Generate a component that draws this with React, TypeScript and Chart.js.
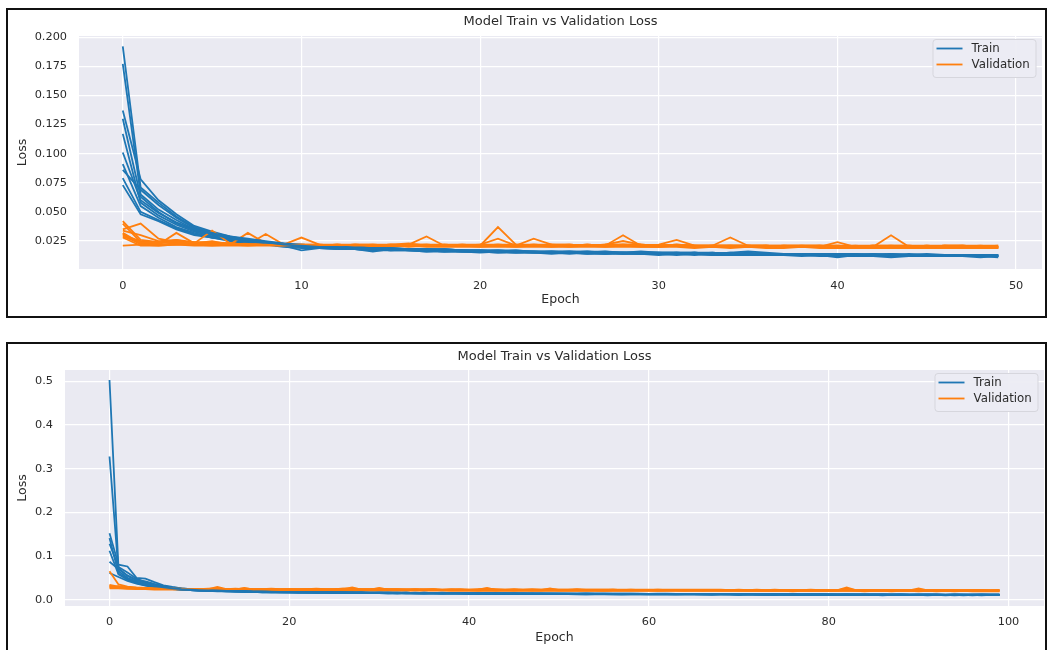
import React, { useEffect, useRef } from "react";
import { Chart, registerables } from "chart.js";

Chart.register(...registerables);

const FONT = "'DejaVu Sans', sans-serif";
const TEXT = "#2b2b2b";
const TRAIN_COLOR = "#1f77b4";
const VAL_COLOR = "#ff7f0e";
const FACE = "#EAEAF2";
const TITLE = "Model Train vs Validation Loss";

// ---------- Top chart (50 epochs) ----------
const topEpochs = Array.from({ length: 50 }, (_, i) => i);
const topXTicks = [0, 10, 20, 30, 40, 50];
const topYTicks = [0.025, 0.05, 0.075, 0.1, 0.125, 0.15, 0.175, 0.2];

const topTrain1 = [
  .192, .071, .058, .046, .037, .032, .028, .026, .024, .022,
  .021, .020, .020, .019, .019, .018, .018, .018, .017, .017,
  .017, .016, .017, .016, .016, .016, .015, .016, .015, .015,
  .015, .015, .014, .015, .014, .014, .014, .014, .013, .014,
  .013, .013, .014, .013, .013, .013, .013, .012, .013, .012];
const topTrain2 = [
  .177, .065, .052, .043, .035, .031, .027, .025, .023, .022,
  .020, .020, .019, .019, .018, .019, .018, .017, .018, .017,
  .016, .017, .016, .016, .015, .016, .015, .015, .015, .015,
  .014, .015, .014, .014, .015, .014, .014, .013, .014, .013,
  .013, .014, .013, .013, .013, .012, .013, .013, .012, .012];
const topTrain3 = [
  .137, .078, .060, .048, .038, .033, .029, .027, .025, .023,
  .022, .021, .020, .020, .019, .019, .018, .018, .018, .017,
  .017, .017, .016, .016, .016, .016, .016, .015, .015, .016,
  .015, .015, .015, .014, .015, .016, .015, .014, .014, .014,
  .014, .013, .014, .013, .014, .013, .013, .013, .013, .013];
const topTrain4 = [
  .130, .063, .050, .040, .034, .030, .026, .024, .023, .021,
  .020, .019, .019, .018, .016, .018, .017, .017, .016, .017,
  .016, .016, .015, .016, .015, .015, .015, .014, .015, .014,
  .014, .014, .014, .014, .013, .014, .013, .013, .014, .013,
  .012, .013, .013, .013, .012, .013, .012, .012, .012, .012];
const topTrain5 = [
  .117, .058, .047, .039, .033, .029, .027, .025, .023, .021,
  .017, .019, .019, .018, .018, .017, .018, .017, .017, .016,
  .016, .016, .016, .015, .016, .015, .015, .015, .014, .015,
  .014, .014, .015, .014, .014, .014, .013, .014, .013, .013,
  .013, .013, .012, .013, .013, .013, .012, .013, .012, .012];
const topTrain6 = [
  .101, .060, .049, .041, .035, .031, .028, .026, .024, .022,
  .021, .020, .020, .019, .019, .018, .018, .018, .017, .017,
  .017, .016, .016, .016, .016, .015, .016, .015, .015, .015,
  .015, .014, .015, .014, .014, .014, .014, .014, .014, .013,
  .011, .013, .013, .014, .013, .013, .013, .013, .013, .013];
const topTrain7 = [
  .091, .055, .045, .037, .032, .028, .026, .024, .022, .021,
  .020, .019, .019, .018, .018, .017, .017, .017, .016, .016,
  .016, .015, .016, .015, .015, .015, .014, .015, .014, .014,
  .014, .014, .013, .014, .013, .013, .013, .013, .013, .013,
  .013, .012, .012, .011, .012, .012, .012, .012, .012, .011];
const topTrain8 = [
  .086, .069, .056, .045, .036, .032, .029, .026, .024, .023,
  .021, .021, .020, .019, .019, .019, .018, .018, .018, .017,
  .017, .017, .017, .016, .016, .016, .016, .016, .015, .015,
  .015, .015, .015, .015, .014, .015, .014, .014, .014, .014,
  .014, .014, .013, .014, .013, .014, .013, .013, .013, .013];
const topTrain9 = [
  .079, .050, .043, .036, .031, .028, .026, .024, .022, .021,
  .020, .019, .018, .018, .017, .018, .017, .016, .017, .016,
  .015, .016, .015, .015, .015, .014, .015, .014, .014, .014,
  .013, .014, .014, .013, .013, .013, .013, .013, .013, .012,
  .012, .012, .013, .012, .012, .012, .012, .012, .011, .012];
const topTrain10 = [
  .073, .048, .042, .035, .030, .028, .025, .023, .022, .020,
  .019, .019, .018, .018, .017, .017, .017, .016, .016, .016,
  .016, .015, .015, .015, .014, .015, .014, .014, .015, .014,
  .014, .013, .014, .013, .013, .013, .014, .013, .012, .013,
  .012, .013, .012, .012, .013, .012, .012, .012, .012, .012];

const topVal1 = [
  .042, .026, .024, .023, .024, .022, .023, .022, .022, .021,
  .022, .021, .022, .021, .022, .021, .022, .029, .021, .022,
  .021, .037, .022, .021, .021, .022, .021, .021, .022, .021,
  .021, .021, .020, .021, .021, .020, .021, .020, .020, .021,
  .020, .021, .020, .020, .020, .021, .020, .020, .020, .020];
const topVal2 = [
  .040, .024, .023, .025, .023, .034, .023, .022, .023, .022,
  .021, .022, .021, .022, .021, .022, .021, .021, .022, .021,
  .022, .027, .021, .022, .021, .021, .022, .021, .030, .021,
  .021, .022, .021, .020, .021, .021, .020, .021, .020, .020,
  .021, .020, .020, .030, .020, .021, .020, .020, .021, .020];
const topVal3 = [
  .035, .040, .027, .024, .023, .023, .022, .032, .023, .022,
  .028, .022, .021, .022, .022, .021, .022, .022, .021, .022,
  .021, .022, .021, .027, .022, .021, .022, .021, .022, .021,
  .022, .026, .021, .021, .021, .021, .021, .020, .021, .021,
  .020, .020, .021, .020, .020, .020, .021, .020, .020, .020];
const topVal4 = [
  .032, .023, .022, .032, .023, .022, .023, .022, .031, .022,
  .022, .021, .022, .021, .021, .021, .022, .021, .021, .021,
  .021, .022, .021, .021, .022, .022, .021, .022, .025, .022,
  .021, .021, .021, .021, .028, .021, .020, .021, .021, .020,
  .024, .020, .021, .020, .021, .020, .021, .021, .020, .020];
const topVal5 = [
  .030, .025, .024, .024, .023, .025, .022, .023, .022, .022,
  .021, .021, .022, .021, .021, .022, .023, .021, .022, .021,
  .021, .021, .021, .022, .021, .021, .022, .021, .021, .022,
  .021, .021, .020, .021, .020, .021, .021, .020, .020, .020,
  .020, .020, .020, .021, .020, .020, .020, .021, .020, .019];
const topVal6 = [
  .031, .022, .022, .023, .022, .022, .022, .022, .022, .021,
  .021, .021, .021, .021, .021, .021, .021, .021, .021, .021,
  .021, .021, .020, .021, .021, .020, .021, .021, .021, .021,
  .020, .021, .020, .020, .020, .020, .020, .020, .020, .020,
  .020, .020, .020, .020, .020, .019, .020, .020, .019, .019];
const topVal7 = [
  .029, .023, .023, .026, .023, .023, .023, .022, .022, .022,
  .022, .022, .021, .022, .021, .022, .021, .022, .021, .021,
  .022, .021, .022, .021, .022, .021, .021, .022, .022, .022,
  .021, .022, .021, .021, .021, .021, .021, .021, .021, .021,
  .021, .020, .021, .021, .021, .020, .021, .021, .020, .021];
const topVal8 = [
  .028, .021, .021, .022, .022, .021, .022, .021, .021, .021,
  .020, .021, .020, .021, .020, .020, .021, .020, .020, .020,
  .020, .020, .020, .020, .020, .020, .020, .020, .020, .020,
  .020, .020, .019, .020, .019, .020, .019, .019, .020, .019,
  .019, .019, .019, .019, .019, .019, .019, .019, .019, .019];
const topVal9 = [
  .021, .022, .021, .022, .021, .021, .021, .021, .022, .021,
  .021, .021, .021, .020, .021, .021, .020, .021, .021, .021,
  .020, .021, .021, .021, .020, .021, .021, .020, .021, .020,
  .020, .021, .020, .020, .020, .020, .020, .020, .020, .020,
  .020, .020, .020, .020, .020, .020, .020, .020, .020, .020];
const topVal10 = [
  .034, .030, .025, .026, .024, .024, .023, .024, .023, .022,
  .022, .022, .022, .022, .022, .022, .022, .022, .022, .022,
  .022, .022, .022, .022, .022, .022, .021, .022, .022, .022,
  .021, .022, .021, .021, .021, .021, .021, .021, .021, .021,
  .021, .021, .021, .021, .021, .021, .021, .021, .021, .021];

const topTrainRuns = [topTrain1, topTrain2, topTrain3, topTrain4, topTrain5, topTrain6, topTrain7, topTrain8, topTrain9, topTrain10];
const topValRuns = [topVal1, topVal2, topVal3, topVal4, topVal5, topVal6, topVal7, topVal8, topVal9, topVal10];

// ---------- Bottom chart (100 epochs) ----------
const bottomEpochs = Array.from({ length: 100 }, (_, i) => i);
const bottomXTicks = [0, 20, 40, 60, 80, 100];
const bottomYTicks = [0, 0.1, 0.2, 0.3, 0.4, 0.5];

const bottomTrain1 = [
  .503, .072, .055, .045, .038, .032, .028, .026, .024, .023,
  .022, .021, .021, .020, .020, .019, .019, .019, .018, .018,
  .018, .018, .017, .017, .017, .017, .016, .017, .016, .016,
  .016, .016, .016, .015, .016, .015, .015, .016, .015, .015,
  .015, .015, .015, .014, .015, .015, .014, .015, .014, .014,
  .014, .014, .014, .014, .014, .014, .013, .014, .014, .013,
  .013, .014, .013, .013, .013, .013, .013, .013, .013, .013,
  .013, .012, .013, .013, .012, .013, .012, .012, .013, .012,
  .012, .012, .012, .012, .012, .012, .012, .012, .012, .011,
  .012, .011, .012, .011, .012, .011, .011, .012, .011, .011];
const bottomTrain2 = [
  .328, .065, .050, .042, .035, .030, .027, .025, .023, .022,
  .021, .021, .020, .020, .019, .019, .018, .018, .018, .017,
  .017, .017, .017, .016, .017, .016, .016, .016, .016, .015,
  .016, .015, .015, .015, .015, .015, .015, .014, .015, .014,
  .014, .015, .014, .014, .014, .014, .014, .014, .013, .014,
  .014, .013, .013, .014, .013, .013, .013, .013, .013, .013,
  .013, .013, .013, .012, .013, .013, .012, .013, .012, .012,
  .012, .012, .012, .012, .012, .012, .012, .012, .011, .012,
  .012, .011, .012, .011, .011, .012, .011, .011, .011, .011,
  .011, .011, .011, .011, .011, .011, .011, .011, .011, .011];
const bottomTrain3 = [
  .152, .080, .076, .050, .048, .040, .033, .029, .026, .024,
  .023, .022, .021, .021, .020, .020, .019, .019, .019, .018,
  .018, .018, .018, .017, .017, .017, .017, .016, .017, .016,
  .016, .016, .016, .016, .015, .016, .015, .015, .015, .015,
  .015, .015, .015, .015, .014, .015, .014, .014, .015, .014,
  .014, .014, .014, .014, .014, .013, .014, .014, .013, .014,
  .013, .013, .014, .013, .013, .013, .013, .013, .013, .013,
  .013, .013, .012, .013, .013, .012, .013, .012, .012, .013,
  .012, .012, .012, .012, .012, .012, .012, .012, .012, .012,
  .012, .012, .012, .011, .012, .012, .011, .012, .012, .012];
const bottomTrain4 = [
  .141, .060, .048, .040, .034, .030, .027, .025, .023, .022,
  .021, .020, .020, .019, .019, .018, .018, .018, .017, .017,
  .017, .016, .017, .016, .016, .016, .016, .015, .016, .015,
  .015, .015, .015, .015, .015, .014, .015, .014, .014, .014,
  .014, .014, .014, .014, .014, .013, .014, .013, .013, .014,
  .013, .013, .013, .013, .013, .013, .013, .012, .013, .013,
  .012, .013, .012, .012, .013, .012, .012, .012, .012, .012,
  .012, .012, .012, .012, .011, .012, .012, .011, .012, .011,
  .011, .011, .012, .011, .011, .011, .011, .011, .011, .011,
  .011, .011, .011, .011, .010, .011, .011, .011, .011, .011];
const bottomTrain5 = [
  .128, .075, .062, .048, .040, .034, .030, .027, .025, .024,
  .022, .022, .021, .020, .020, .019, .019, .019, .018, .018,
  .018, .017, .017, .017, .017, .016, .017, .016, .016, .016,
  .016, .016, .015, .016, .015, .015, .015, .015, .015, .015,
  .015, .014, .015, .014, .014, .014, .014, .014, .014, .014,
  .014, .014, .013, .014, .013, .014, .013, .013, .013, .013,
  .013, .013, .013, .013, .013, .013, .012, .013, .013, .012,
  .012, .013, .012, .012, .012, .012, .012, .012, .012, .012,
  .012, .012, .011, .012, .012, .011, .012, .011, .012, .011,
  .011, .012, .011, .011, .011, .011, .012, .011, .011, .011];
const bottomTrain6 = [
  .112, .058, .046, .038, .033, .029, .026, .024, .023, .022,
  .021, .020, .019, .019, .018, .018, .018, .017, .017, .017,
  .016, .016, .016, .016, .016, .015, .015, .015, .015, .015,
  .015, .014, .015, .014, .014, .014, .014, .014, .014, .014,
  .013, .014, .013, .014, .013, .013, .013, .013, .013, .013,
  .013, .013, .012, .013, .012, .013, .012, .012, .012, .012,
  .012, .012, .012, .012, .012, .012, .012, .011, .012, .012,
  .011, .012, .011, .011, .011, .012, .011, .011, .011, .011,
  .011, .011, .011, .011, .011, .011, .010, .011, .011, .011,
  .011, .010, .011, .011, .011, .010, .011, .010, .011, .011];
const bottomTrain7 = [
  .087, .070, .055, .045, .042, .036, .031, .028, .026, .024,
  .023, .022, .021, .021, .020, .020, .019, .019, .019, .018,
  .018, .018, .018, .017, .017, .017, .017, .017, .016, .016,
  .016, .016, .016, .016, .015, .016, .015, .015, .015, .015,
  .015, .015, .015, .015, .015, .014, .015, .014, .014, .014,
  .014, .014, .014, .014, .014, .014, .014, .013, .014, .013,
  .013, .013, .013, .013, .013, .013, .013, .013, .013, .013,
  .013, .013, .013, .012, .013, .012, .013, .012, .012, .012,
  .012, .012, .012, .012, .012, .012, .012, .012, .012, .012,
  .012, .012, .012, .012, .012, .012, .012, .012, .012, .012];
const bottomTrain8 = [
  .061, .052, .043, .037, .032, .029, .026, .024, .023, .022,
  .021, .020, .020, .019, .019, .018, .018, .017, .017, .017,
  .017, .016, .016, .016, .016, .015, .016, .015, .015, .015,
  .015, .015, .014, .015, .014, .014, .014, .014, .014, .014,
  .014, .013, .014, .013, .013, .014, .013, .013, .013, .013,
  .013, .013, .013, .012, .013, .013, .012, .013, .012, .012,
  .012, .012, .012, .012, .012, .012, .012, .012, .012, .012,
  .011, .012, .012, .011, .012, .011, .011, .011, .012, .011,
  .011, .011, .011, .011, .011, .011, .011, .011, .011, .011,
  .011, .011, .011, .010, .011, .011, .010, .011, .011, .011];

const bottomVal1 = [
  .065, .035, .030, .028, .027, .026, .026, .025, .025, .024,
  .024, .024, .029, .024, .024, .026, .024, .023, .024, .023,
  .023, .023, .024, .023, .023, .023, .024, .028, .023, .023,
  .027, .023, .023, .023, .022, .023, .023, .022, .023, .022,
  .022, .023, .027, .022, .022, .023, .022, .022, .022, .026,
  .022, .022, .022, .022, .022, .022, .023, .022, .022, .022,
  .022, .022, .022, .022, .022, .022, .022, .022, .022, .022,
  .021, .022, .022, .021, .022, .021, .022, .021, .021, .022,
  .021, .022, .028, .022, .021, .021, .021, .022, .021, .021,
  .026, .021, .021, .021, .021, .021, .021, .021, .021, .021];
const bottomVal2 = [
  .034, .030, .028, .027, .026, .026, .025, .025, .024, .024,
  .024, .024, .025, .024, .023, .027, .023, .024, .023, .023,
  .024, .023, .023, .024, .023, .023, .023, .024, .023, .023,
  .024, .023, .023, .022, .023, .022, .023, .022, .022, .023,
  .022, .022, .024, .022, .022, .022, .022, .022, .022, .023,
  .022, .022, .023, .022, .022, .021, .022, .022, .022, .022,
  .022, .021, .022, .022, .021, .022, .021, .022, .021, .021,
  .022, .021, .021, .021, .021, .022, .021, .021, .021, .021,
  .021, .021, .023, .021, .021, .021, .021, .021, .021, .021,
  .021, .021, .021, .021, .021, .020, .021, .021, .020, .021];
const bottomVal3 = [
  .030, .028, .027, .026, .025, .025, .024, .024, .024, .023,
  .023, .023, .023, .023, .023, .023, .023, .023, .023, .022,
  .023, .022, .023, .022, .022, .023, .022, .022, .022, .022,
  .022, .022, .022, .022, .022, .022, .022, .022, .022, .022,
  .022, .021, .022, .021, .022, .021, .022, .021, .021, .022,
  .021, .021, .021, .021, .021, .021, .021, .021, .021, .021,
  .021, .021, .021, .021, .021, .021, .021, .021, .021, .021,
  .021, .020, .021, .020, .021, .020, .021, .020, .020, .021,
  .020, .020, .020, .020, .020, .020, .020, .020, .020, .020,
  .020, .020, .020, .020, .020, .020, .020, .020, .020, .020];
const bottomVal4 = [
  .028, .031, .027, .027, .026, .025, .025, .025, .024, .024,
  .024, .024, .024, .024, .024, .024, .024, .024, .024, .024,
  .024, .024, .024, .024, .024, .024, .025, .024, .024, .024,
  .024, .024, .024, .023, .024, .023, .024, .023, .023, .023,
  .023, .023, .023, .023, .023, .023, .023, .023, .023, .023,
  .023, .023, .023, .023, .023, .023, .023, .022, .023, .022,
  .022, .023, .022, .022, .022, .022, .022, .022, .022, .022,
  .022, .022, .022, .022, .022, .022, .022, .022, .022, .022,
  .022, .022, .022, .022, .022, .022, .022, .022, .022, .022,
  .022, .022, .022, .022, .022, .022, .022, .022, .021, .022];
const bottomVal5 = [
  .026, .026, .025, .024, .024, .023, .023, .023, .023, .022,
  .022, .022, .022, .022, .022, .022, .022, .022, .021, .022,
  .021, .022, .021, .021, .021, .021, .021, .021, .021, .021,
  .021, .021, .021, .021, .021, .021, .021, .021, .020, .021,
  .020, .021, .020, .021, .020, .020, .020, .020, .020, .020,
  .020, .020, .020, .020, .020, .020, .020, .020, .020, .020,
  .020, .020, .020, .020, .020, .020, .020, .020, .020, .020,
  .020, .020, .020, .020, .020, .020, .019, .020, .020, .020,
  .020, .020, .020, .020, .019, .020, .020, .019, .020, .020,
  .019, .020, .019, .020, .019, .020, .019, .019, .019, .019];
const bottomVal6 = [
  .032, .027, .026, .026, .025, .025, .025, .026, .024, .024,
  .024, .025, .026, .024, .025, .024, .024, .024, .025, .024,
  .024, .024, .024, .025, .024, .024, .025, .026, .024, .024,
  .025, .024, .024, .024, .024, .024, .024, .023, .024, .024,
  .023, .024, .025, .024, .023, .024, .023, .024, .023, .024,
  .023, .023, .024, .023, .023, .023, .023, .023, .023, .023,
  .023, .023, .023, .023, .023, .023, .023, .023, .023, .022,
  .023, .022, .023, .022, .023, .022, .022, .022, .023, .022,
  .022, .022, .025, .022, .022, .022, .022, .022, .022, .022,
  .023, .022, .022, .022, .022, .022, .022, .022, .022, .022];

const bottomTrainRuns = [bottomTrain1, bottomTrain2, bottomTrain3, bottomTrain4, bottomTrain5, bottomTrain6, bottomTrain7, bottomTrain8];
const bottomValRuns = [bottomVal1, bottomVal2, bottomVal3, bottomVal4, bottomVal5, bottomVal6];

// ---------- helpers ----------
const LINE_W = 1.8;

function buildDatasets(trainRuns: number[][], valRuns: number[][]) {
  const ds: any[] = [];
  const n = Math.max(trainRuns.length, valRuns.length);
  for (let i = 0; i < n; i++) {
    if (trainRuns[i]) ds.push({ label: "Train", data: trainRuns[i], borderColor: TRAIN_COLOR, backgroundColor: TRAIN_COLOR, borderWidth: LINE_W, pointRadius: 0, tension: 0, fill: false });
    if (valRuns[i]) ds.push({ label: "Validation", data: valRuns[i], borderColor: VAL_COLOR, backgroundColor: VAL_COLOR, borderWidth: LINE_W, pointRadius: 0, tension: 0, fill: false });
  }
  return ds;
}

const facePlugin = {
  id: "face",
  beforeDraw(chart: any) {
    const { ctx, chartArea: a } = chart;
    ctx.save();
    ctx.fillStyle = FACE;
    ctx.fillRect(a.left, a.top, a.right - a.left, a.bottom - a.top);
    ctx.restore();
  },
};

const boxLegendPlugin = {
  id: "boxLegend",
  afterDraw(chart: any) {
    const { ctx, chartArea: a } = chart;
    const seen: { label: string; color: string }[] = [];
    chart.data.datasets.forEach((d: any) => {
      if (!seen.find((s) => s.label === d.label)) seen.push({ label: d.label, color: d.borderColor });
    });
    const w = 103, h = 38;
    const x = a.right - 6.5 - w;
    const y = a.top + 3;
    ctx.save();
    ctx.beginPath();
    if ((ctx as any).roundRect) (ctx as any).roundRect(x + 0.5, y + 0.5, w, h, 3);
    else ctx.rect(x + 0.5, y + 0.5, w, h);
    ctx.fillStyle = "rgba(236,236,243,0.95)";
    ctx.fill();
    ctx.strokeStyle = "#d6d6dd";
    ctx.lineWidth = 1;
    ctx.stroke();
    ctx.font = `11.8px ${FONT}`;
    ctx.textBaseline = "middle";
    ctx.textAlign = "left";
    seen.forEach((s, i) => {
      const ly = y + 9.5 + i * 16;
      ctx.beginPath();
      ctx.strokeStyle = s.color;
      ctx.lineWidth = LINE_W;
      ctx.moveTo(x + 4, ly);
      ctx.lineTo(x + 30, ly);
      ctx.stroke();
      ctx.fillStyle = TEXT;
      ctx.fillText(s.label, x + 39, ly);
    });
    ctx.restore();
  },
};

type Cfg = {
  labels: number[];
  trainRuns: number[][];
  valRuns: number[][];
  xMin: number; xMax: number; xTicks: number[];
  yMin: number; yMax: number; yTicks: number[]; yDecimals: number;
  yWidth: number; xHeight: number; padRight: number;
  titlePad: { top: number; bottom: number };
  xTickPad: number; xTitlePadBottom: number;
};

function makeConfig(c: Cfg): any {
  return {
    type: "line",
    data: { labels: c.labels, datasets: buildDatasets(c.trainRuns, c.valRuns) },
    plugins: [facePlugin, boxLegendPlugin],
    options: {
      animation: false,
      responsive: false,
      maintainAspectRatio: false,
      events: [],
      layout: { padding: { left: 0, right: c.padRight, top: 0, bottom: 0 } },
      plugins: {
        legend: { display: false },
        tooltip: { enabled: false },
        title: {
          display: true,
          text: TITLE,
          fullSize: false,
          color: TEXT,
          font: { family: FONT, size: 13, weight: "normal", lineHeight: 1.2 },
          padding: c.titlePad,
        },
      },
      scales: {
        x: {
          type: "linear",
          min: c.xMin,
          max: c.xMax,
          afterFit: (s: any) => { s.height = c.xHeight; },
          afterBuildTicks: (s: any) => { s.ticks = c.xTicks.map((v) => ({ value: v })); },
          grid: { color: "#ffffff", lineWidth: 1.2, drawTicks: false },
          border: { display: false },
          ticks: {
            autoSkip: false, maxRotation: 0, padding: c.xTickPad, color: TEXT,
            font: { family: FONT, size: 11.3 },
            callback: (v: any) => String(v),
          },
          title: {
            display: true, text: "Epoch", color: TEXT,
            font: { family: FONT, size: 12.5, lineHeight: 1.2 },
            padding: { top: 0, bottom: c.xTitlePadBottom },
          },
        },
        y: {
          type: "linear",
          min: c.yMin,
          max: c.yMax,
          afterFit: (s: any) => { s.width = c.yWidth; },
          afterBuildTicks: (s: any) => { s.ticks = c.yTicks.map((v) => ({ value: v })); },
          grid: { color: "#ffffff", lineWidth: 1.2, drawTicks: false },
          border: { display: false },
          ticks: {
            autoSkip: false, padding: 12, color: TEXT,
            font: { family: FONT, size: 11.3 },
            callback: (v: any) => Number(v).toFixed(c.yDecimals),
          },
          title: {
            display: true, text: "Loss", color: TEXT,
            font: { family: FONT, size: 12.5, lineHeight: 1.2 },
            padding: { top: 15, bottom: 0 },
          },
        },
      },
    },
  };
}

function LossChart({ cfg, width, height }: { cfg: Cfg; width: number; height: number }) {
  const ref = useRef<HTMLCanvasElement | null>(null);
  useEffect(() => {
    if (!ref.current) return;
    const chart = new Chart(ref.current, makeConfig(cfg));
    return () => chart.destroy();
  }, [cfg]);
  return <canvas ref={ref} width={width} height={height} style={{ width, height, display: "block" }} />;
}

const topCfg: Cfg = {
  labels: topEpochs, trainRuns: topTrainRuns, valRuns: topValRuns,
  xMin: -2.45, xMax: 51.45, xTicks: topXTicks,
  yMin: 0.001, yMax: 0.201, yTicks: topYTicks, yDecimals: 3,
  yWidth: 79, xHeight: 47, padRight: 5,
  titlePad: { top: 14.2, bottom: 6.2 },
  xTickPad: 10, xTitlePadBottom: 8.5,
};

const bottomCfg: Cfg = {
  labels: bottomEpochs, trainRuns: bottomTrainRuns, valRuns: bottomValRuns,
  xMin: -4.95, xMax: 103.95, xTicks: bottomXTicks,
  yMin: -0.0145, yMax: 0.526, yTicks: bottomYTicks, yDecimals: 1,
  yWidth: 65, xHeight: 44, padRight: 3,
  titlePad: { top: 4.2, bottom: 5.2 },
  xTickPad: 9, xTitlePadBottom: 4.5,
};

export default function App() {
  return (
    <div style={{ position: "absolute", left: 0, top: 0, width: 1047, height: 650, background: "#fff", overflow: "hidden" }}>
      <div style={{ position: "absolute", left: 0, top: 0 }}>
        <LossChart cfg={topCfg} width={1047} height={316} />
      </div>
      <div style={{ position: "absolute", left: 0, top: 345 }}>
        <LossChart cfg={bottomCfg} width={1047} height={305} />
      </div>
      <div style={{ position: "absolute", left: 6, top: 8, width: 1041, height: 310, border: "2px solid #111", boxSizing: "border-box", pointerEvents: "none" }} />
      <div style={{ position: "absolute", left: 6, top: 342, width: 1041, height: 320, border: "2px solid #111", boxSizing: "border-box", pointerEvents: "none" }} />
    </div>
  );
}
